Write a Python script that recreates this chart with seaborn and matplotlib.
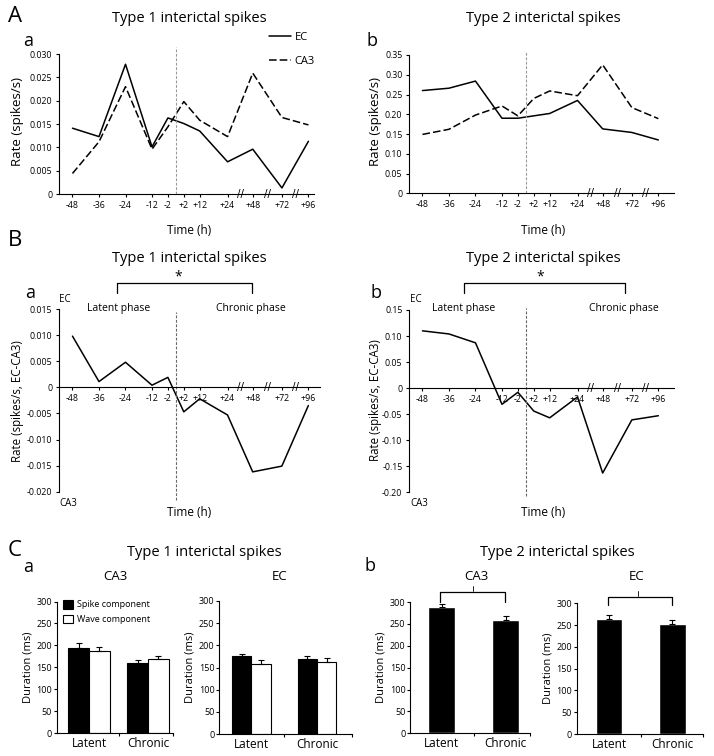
import pandas as pd
import matplotlib
matplotlib.use('Agg')
import matplotlib.pyplot as plt
import seaborn as sns
from matplotlib.lines import Line2D
from matplotlib.patches import Rectangle
from matplotlib.ticker import FuncFormatter, FixedLocator

# time points of the recordings (h from first spontaneous seizure)
time_labels = ['-48', '-36', '-24', '-12', '-2', '+2', '+12', '+24', '+48', '+72', '+96']
# slot of each time point on the broken time axis
time_slot = [0, 1, 2, 3, 3.6, 4.2, 4.8, 5.85, 6.8, 7.9, 8.9]
break_slot = [6.33, 7.35, 8.4]
onset_slot = 3.9

# A: spike rates (spikes/s)
ec_type1 = [0.0141, 0.0123, 0.0278, 0.0101, 0.0163, 0.0151, 0.0135, 0.0069, 0.0096, 0.0013, 0.0113]
ca3_type1 = [0.0044, 0.0112, 0.0230, 0.0096, 0.0144, 0.0198, 0.0158, 0.0123, 0.0259, 0.0164, 0.0148]
ec_type2 = [0.260, 0.266, 0.284, 0.190, 0.190, 0.196, 0.202, 0.235, 0.163, 0.154, 0.135]
ca3_type2 = [0.149, 0.162, 0.198, 0.221, 0.196, 0.240, 0.259, 0.247, 0.325, 0.217, 0.189]

# B: EC - CA3 rate difference
diff_type1 = [0.0098, 0.0011, 0.0048, 0.0004, 0.0019, -0.0047, -0.0022, -0.0053, -0.0162, -0.0151, -0.0035]
diff_type2 = [0.110, 0.104, 0.087, -0.031, -0.008, -0.044, -0.057, -0.017, -0.163, -0.061, -0.053]

# C: durations (ms), mean and SEM
phases = ['Latent', 'Chronic']
components = ['Spike component', 'Wave component']
t1_ca3_spike = [195, 159]
t1_ca3_spike_err = [10, 8]
t1_ca3_wave = [187, 169]
t1_ca3_wave_err = [10, 8]
t1_ec_spike = [175, 169]
t1_ec_spike_err = [6, 6]
t1_ec_wave = [159, 163]
t1_ec_wave_err = [8, 8]
t2_ca3 = [288, 260]
t2_ca3_err = [8, 8]
t2_ec = [265, 252]
t2_ec_err = [9, 10]

W, H = 714, 756

sns.set_style('ticks')
plt.rcParams['font.family'] = ['Open Sans', 'DejaVu Sans']
plt.rcParams.update({'axes.linewidth': 0.8, 'axes.edgecolor': 'black', 'text.color': 'black',
                     'axes.labelcolor': 'black', 'xtick.color': 'black', 'ytick.color': 'black'})

fig = plt.figure(figsize=(W / 100, H / 100), dpi=100)


def box(l, t, r, b):
    return [l / W, 1 - b / H, (r - l) / W, (b - t) / H]


def put(x, y, s, size, ha='center', va='center', **kw):
    fig.text(x / W, 1 - y / H, s, fontsize=size, ha=ha, va=va, **kw)


def bracket(x0, x1, y, drop, lw=0.9):
    xs = [x0 / W, x0 / W, x1 / W, x1 / W]
    ys = [1 - (y + drop) / H, 1 - y / H, 1 - y / H, 1 - (y + drop) / H]
    fig.add_artist(Line2D(xs, ys, color='black', lw=lw))


def num_fmt(decimals):
    return FuncFormatter(lambda v, _: '0' if abs(v) < 1e-12 else f'{v:.{decimals}f}')


def time_axis(ax, right):
    ax.set_xlim(-0.52, right)
    ax.set_xticks(time_slot)
    ax.set_xticklabels(time_labels)
    ax.set_xlabel('')
    ax.set_ylabel('')
    ax.tick_params(labelsize=6.3, length=2.5, width=0.8, pad=2)
    ax.tick_params(axis='x', pad=2.5)
    for s in break_slot:
        ax.text(s, 0, '//', ha='center', va='center', fontsize=7.5, family='DejaVu Sans')
    sns.despine(ax=ax)


def rate_panel(ax, ec, ca3, top, step, decimals, right):
    n = len(time_labels)
    df = pd.DataFrame({'slot': time_slot * 2, 'rate': ec + ca3,
                       'region': ['EC'] * n + ['CA3'] * n})
    sns.lineplot(data=df, x='slot', y='rate', style='region', style_order=['EC', 'CA3'],
                 dashes={'EC': '', 'CA3': (5, 2)}, color='black', lw=1.1, ax=ax, legend=False)
    ax.set_ylim(0, top)
    ax.set_yticks([i * step for i in range(int(round(top / step)) + 1)])
    ax.yaxis.set_major_formatter(num_fmt(decimals))
    time_axis(ax, right)


def diff_panel(ax, diff, lo, hi, step, decimals, right):
    df = pd.DataFrame({'slot': time_slot, 'diff': diff})
    sns.lineplot(data=df, x='slot', y='diff', color='black', lw=1.1, ax=ax)
    ax.set_ylim(lo, hi)
    nstep = int(round((hi - lo) / step))
    ax.set_yticks([lo + i * step for i in range(nstep + 1)])
    ax.yaxis.set_major_formatter(num_fmt(decimals))
    ax.spines['bottom'].set_position(('data', 0))
    time_axis(ax, right)


def bar_axis(ax, left, right):
    ax.set_xlim(left, right)
    ax.set_ylim(0, 300)
    ax.set_yticks(range(0, 301, 50))
    ax.set_xlabel('')
    ax.set_ylabel('')
    ax.xaxis.set_minor_locator(FixedLocator([0.5, right]))
    ax.tick_params(axis='x', which='major', length=0, pad=3, labelsize=8.5)
    ax.tick_params(axis='x', which='minor', length=2.5, width=0.8)
    ax.tick_params(axis='y', length=2.5, width=0.8, pad=1, labelsize=6.5)
    sns.despine(ax=ax)


def add_errors(ax, errs):
    bars = sorted([p for p in ax.patches if p.get_height() > 0], key=lambda p: p.get_x())
    for p, e in zip(bars, errs):
        xc = p.get_x() + p.get_width() / 2
        ax.errorbar([xc], [p.get_height()], yerr=[[0], [e]], fmt='none',
                    ecolor='black', elinewidth=0.8, capsize=2, capthick=0.8)


# ---------- A ----------
ax_aa = fig.add_axes(box(58.7, 54, 314, 194))
rate_panel(ax_aa, ec_type1, ca3_type1, 0.030, 0.005, 3, 9.11)
ax_aa.axvline(onset_slot, ymin=0, ymax=1.05, clip_on=False, color='#9a9a9a', lw=0.8, ls=(0, (2.5, 1.5)))
ax_aa.legend([Line2D([], [], color='black', lw=1.1),
              Line2D([], [], color='black', lw=1.1, dashes=(5, 2))], ['EC', 'CA3'],
             loc='upper left', bbox_to_anchor=(269 / W, 1 - 32 / H), bbox_transform=fig.transFigure,
             frameon=False, fontsize=8, handlelength=2.0, handletextpad=0.3, labelspacing=1.2,
             borderpad=0, borderaxespad=0)

ax_ab = fig.add_axes(box(408.7, 55, 673.7, 193.3))
rate_panel(ax_ab, ec_type2, ca3_type2, 0.35, 0.05, 2, 9.48)
ax_ab.axvline(onset_slot, ymin=0, ymax=1.02, clip_on=False, color='#9a9a9a', lw=0.8, ls=(0, (2.5, 1.5)))

put(8, 17, 'A', 16, ha='left')
put(23, 41, 'a', 13, ha='left')
put(367, 41, 'b', 13, ha='left')
put(189, 19, 'Type 1 interictal spikes', 10.5)
put(543, 19, 'Type 2 interictal spikes', 10.5)
put(18, 122, 'Rate (spikes/s)', 9.5, rotation=90)
put(375, 122, 'Rate (spikes/s)', 9.5, rotation=90)
put(189, 231, 'Time (h)', 8.5)
put(543, 231, 'Time (h)', 8.5)

# ---------- B ----------
ax_ba = fig.add_axes(box(58.7, 309, 320, 491.7))
diff_panel(ax_ba, diff_type1, -0.020, 0.015, 0.005, 3, 9.34)
ax_ba.axvline(onset_slot, ymin=-0.045, ymax=0.985, clip_on=False, color='#666666', lw=0.8, ls=(0, (2.5, 1.5)))

ax_bb = fig.add_axes(box(408.7, 310, 673.7, 492.3))
diff_panel(ax_bb, diff_type2, -0.20, 0.15, 0.05, 2, 9.48)
ax_bb.axvline(onset_slot, ymin=-0.02, ymax=1.01, clip_on=False, color='#666666', lw=0.8, ls=(0, (2.5, 1.5)))

put(8, 240, 'B', 16, ha='left')
put(189, 258, 'Type 1 interictal spikes', 10.5)
put(543, 258, 'Type 2 interictal spikes', 10.5)
put(25, 293, 'a', 13, ha='left')
put(370, 293, 'b', 13, ha='left')
for xl in (59, 410):
    put(xl, 300, 'EC', 7, ha='left')
    put(xl, 503, 'CA3', 7, ha='left')
put(118.8, 308, 'Latent phase', 7.5)
put(251, 308, 'Chronic phase', 7.5)
put(463.7, 308, 'Latent phase', 7.5)
put(623.7, 308, 'Chronic phase', 7.5)
bracket(116.7, 252.3, 283.3, 10)
bracket(464.3, 624.7, 283.3, 10)
put(178, 277, '*', 10)
put(540, 277, '*', 10)
put(18, 401, 'Rate (spikes/s, EC-CA3)', 8.3, rotation=90)
put(375, 400, 'Rate (spikes/s, EC-CA3)', 8.3, rotation=90)
put(189, 513, 'Time (h)', 8.5)
put(543, 513, 'Time (h)', 8.5)

# ---------- C ----------
comp_palette = {'Spike component': 'black', 'Wave component': 'white'}

ax_c1 = fig.add_axes(box(56.7, 601.5, 173.3, 733.3))
df_c1 = pd.DataFrame({'phase': phases * 2, 'component': [components[0]] * 2 + [components[1]] * 2,
                      'duration': t1_ca3_spike + t1_ca3_wave})
sns.barplot(data=df_c1, x='phase', y='duration', hue='component', order=phases, hue_order=components,
            palette=comp_palette, width=0.7, saturation=1, edgecolor='black', linewidth=0.8,
            errorbar=None, legend=False, ax=ax_c1)
add_errors(ax_c1, [t1_ca3_spike_err[0], t1_ca3_wave_err[0], t1_ca3_spike_err[1], t1_ca3_wave_err[1]])
bar_axis(ax_c1, -0.55, 1.43)
ax_c1.legend([Rectangle((0, 0), 1, 1, fc='black', ec='black', lw=0.8),
              Rectangle((0, 0), 1, 1, fc='white', ec='black', lw=0.8)], components,
             loc='upper left', bbox_to_anchor=(63 / W, 1 - 600 / H), bbox_transform=fig.transFigure,
             frameon=False, fontsize=6.5, handlelength=1.1, handleheight=1.1, handletextpad=0.4,
             labelspacing=0.6, borderpad=0, borderaxespad=0)

ax_c2 = fig.add_axes(box(219.3, 601, 351.7, 734))
df_c2 = pd.DataFrame({'phase': phases * 2, 'component': [components[0]] * 2 + [components[1]] * 2,
                      'duration': t1_ec_spike + t1_ec_wave})
sns.barplot(data=df_c2, x='phase', y='duration', hue='component', order=phases, hue_order=components,
            palette=comp_palette, width=0.59, saturation=1, edgecolor='black', linewidth=0.8,
            errorbar=None, legend=False, ax=ax_c2)
add_errors(ax_c2, [t1_ec_spike_err[0], t1_ec_wave_err[0], t1_ec_spike_err[1], t1_ec_wave_err[1]])
bar_axis(ax_c2, -0.49, 1.53)

ax_c3 = fig.add_axes(box(410.3, 602, 530, 733.3))
sns.barplot(x=phases, y=t2_ca3, color='black', width=0.42, saturation=1, errorbar=None, ax=ax_c3)
add_errors(ax_c3, t2_ca3_err)
bar_axis(ax_c3, -0.49, 1.38)

ax_c4 = fig.add_axes(box(576.7, 603.3, 703.3, 734))
sns.barplot(x=phases, y=t2_ec, color='black', width=0.42, saturation=1, errorbar=None, ax=ax_c4)
add_errors(ax_c4, t2_ec_err)
bar_axis(ax_c4, -0.51, 1.49)

for ax in (ax_c1, ax_c2, ax_c3, ax_c4):
    ax.set_ylabel('Duration (ms)', fontsize=8, labelpad=2)

put(8, 551, 'C', 16, ha='left')
put(204, 552, 'Type 1 interictal spikes', 10.5)
put(557, 552, 'Type 2 interictal spikes', 10.5)
put(23, 567, 'a', 13, ha='left')
put(365, 566, 'b', 13, ha='left')
put(115, 577, 'CA3', 9.5)
put(280, 577, 'EC', 9.5)
put(476, 577, 'CA3', 9.5)
put(637, 577, 'EC', 9.5)
bracket(440, 505, 591.7, 10)
bracket(608.3, 671.7, 596.7, 8.5)
fig.add_artist(Line2D([472.7 / W] * 2, [1 - 586 / H, 1 - 590.5 / H], color='black', lw=0.6))
fig.add_artist(Line2D([638.3 / W] * 2, [1 - 591 / H, 1 - 595.5 / H], color='black', lw=0.6))

fig.savefig('out.png', dpi=100, facecolor='white')
